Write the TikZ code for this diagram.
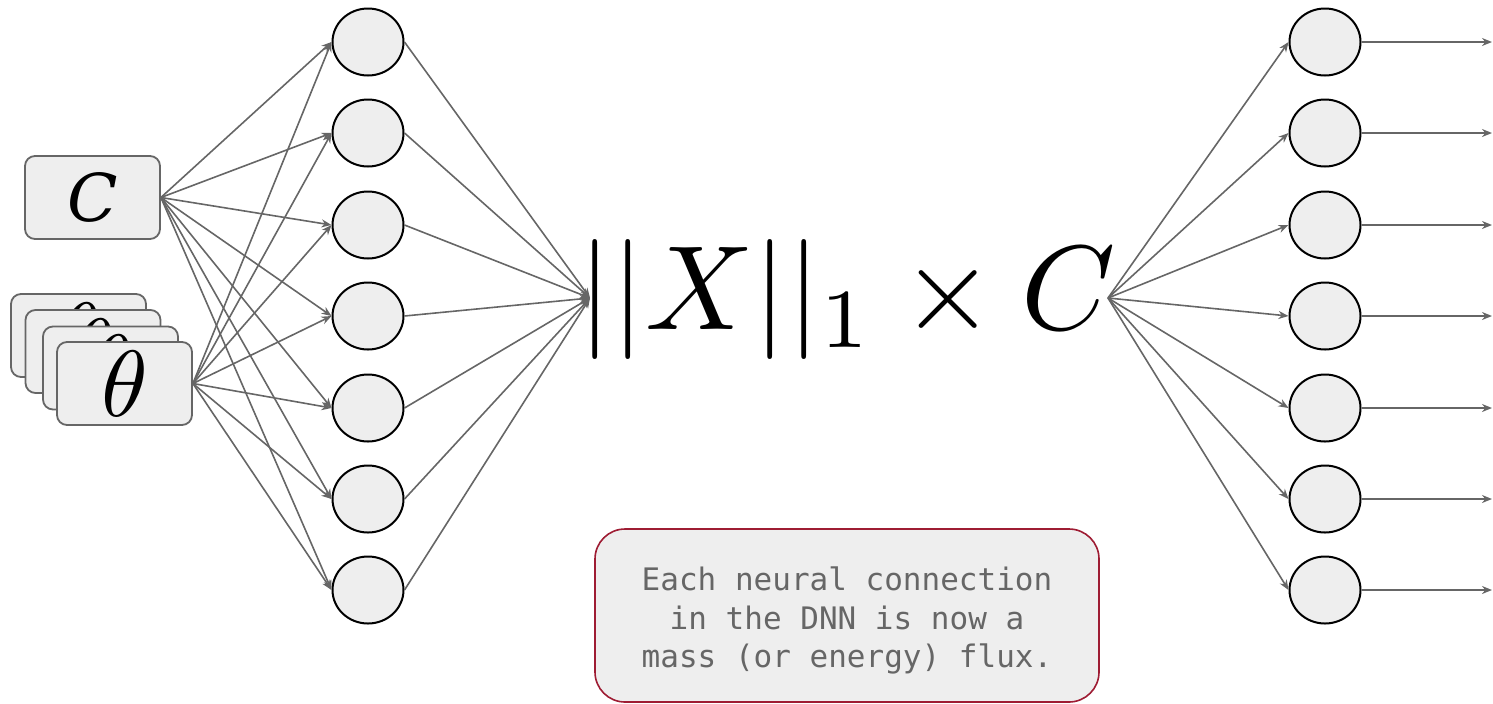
\documentclass[tikz,border=0pt]{standalone}
\usepackage{fontspec}
\usepackage{graphicx}
\newfontfamily\notefont{DejaVu Sans Mono}
\newfontfamily\cfont{DejaVu Serif}
\usetikzlibrary{shapes.geometric,arrows.meta}
\definecolor{linegray}{HTML}{666666}
\definecolor{fillgray}{HTML}{EEEEEE}
\definecolor{boxred}{HTML}{9E1C33}
\begin{document}
\begin{tikzpicture}[x=0.5pt,y=-0.5pt,
  neuron/.style={ellipse,draw=black,line width=1pt,fill=fillgray,minimum width=35.5pt,minimum height=33.5pt,inner sep=0pt},
  inbox/.style={draw=linegray,line width=0.9pt,fill=fillgray,rounded corners=5pt,minimum width=67.5pt,minimum height=41.5pt,inner sep=0pt},
  conn/.style={draw=linegray,line width=0.8pt,-{Stealth[length=5pt,width=4pt]}},
  notebox/.style={draw=boxred,line width=0.8pt,fill=fillgray,rounded corners=15pt,minimum width=252pt,minimum height=86.5pt,inner sep=0pt,align=center,text=linegray,font=\notefont\fontsize{15.5}{19.25}\selectfont}]
\useasboundingbox (0,0) rectangle (1493,703);

% input boxes
\node[inbox] (cbox) at (92.5,197.5) {\cfont\itshape\fontsize{33}{33}\selectfont C};
\node[inbox] (t4) at (78.5,335.5) {\scalebox{4.7}{$\theta$}};
\node[inbox] (t3) at (93,351.5) {\scalebox{4.7}{$\theta$}};
\node[inbox] (t2) at (110.5,368) {\scalebox{4.7}{$\theta$}};
\node[inbox] (t1) at (124.5,383.5) {\scalebox{4.7}{$\theta$}};

% hidden and output neurons
\foreach \i/\y in {1/42,2/133,3/225,4/316,5/408,6/499,7/590} {
  \node[neuron] (h\i) at (368,\y) {};
  \node[neuron] (o\i) at (1325,\y) {};
  \coordinate (e\i) at (1492,\y);
}

% formula
\node[inner sep=0pt,anchor=base] (f) at (847,329) {\scalebox{6}{$||X||_1\times C$}};
\coordinate (fin) at (590,298);
\coordinate (fout) at (1108,298);

% connections
\foreach \i in {1,...,7} {
  \draw[conn] (cbox.east) -- (h\i.west);
  \draw[conn] (t1.east) -- (h\i.west);
  \draw[conn] (h\i.east) -- (fin);
  \draw[conn] (fout) -- (o\i.west);
  \draw[conn] (o\i.east) -- (e\i);
}

% note
\node[notebox] (note) at (847,615.5) {\rule{0pt}{17pt}Each neural connection\\in the DNN is now a\\mass (or energy) flux.};
\end{tikzpicture}
\end{document}
